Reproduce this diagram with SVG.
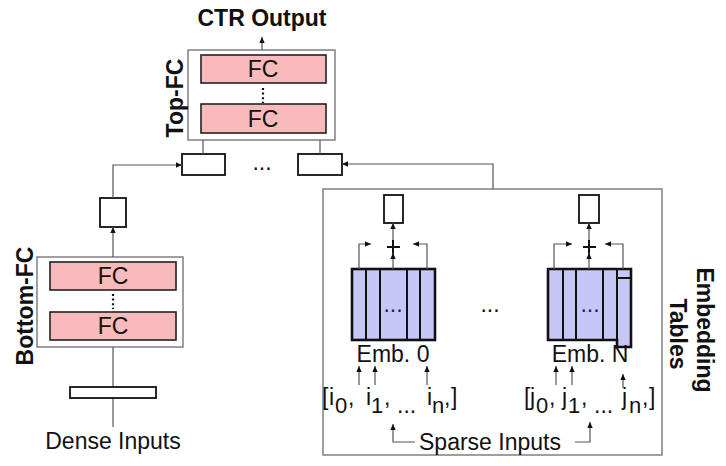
<svg xmlns="http://www.w3.org/2000/svg" width="726" height="466" viewBox="0 0 726 466">
<defs>
<marker id="ah" viewBox="0 0 10 10" refX="10" refY="5" markerWidth="7" markerHeight="6" markerUnits="userSpaceOnUse" orient="auto"><path d="M0,0.5 L10,5 L0,9.5 z" fill="#111"/></marker>
<style>
.t{font-family:"Liberation Sans",Arial,Helvetica,sans-serif;font-size:23px;fill:#111}
.b{font-family:"Liberation Sans",Arial,Helvetica,sans-serif;font-size:23px;font-weight:bold;fill:#111}
.s{font-size:22px}
.grp{fill:#fff;stroke:#777;stroke-width:1.4}
.fc{fill:#f8baba;stroke:#222;stroke-width:1.6}
.box{fill:#fff;stroke:#111;stroke-width:1.8}
.tab{fill:#c6c6f7;stroke:#111;stroke-width:2.6}
.col{stroke:#111;stroke-width:2;fill:none}
.c{fill:none;stroke:#555;stroke-width:1.2}
.a{fill:none;stroke:#555;stroke-width:1.2;marker-end:url(#ah)}
.dots{stroke:#111;stroke-width:2.2;stroke-dasharray:2 2.6;fill:none}
.plus{stroke:#111;stroke-width:2;fill:none}
</style>
</defs>
<rect width="726" height="466" fill="#fff"/>

<g id="top-fc">
<rect class="grp" x="188" y="50" width="147" height="90"/>
<rect class="fc" x="201" y="55" width="125" height="28"/>
<text class="t" x="263" y="77" text-anchor="middle">FC</text>
<line class="dots" x1="263" y1="88" x2="263" y2="103"/>
<rect class="fc" x="201" y="104" width="125" height="29"/>
<text class="t" x="263" y="127" text-anchor="middle">FC</text>
<text class="b" transform="translate(183,98) rotate(-90)" text-anchor="middle">Top-FC</text>
</g>
<text id="ctr-output" class="b" x="262" y="26" text-anchor="middle">CTR Output</text>

<g id="concat-boxes">
<rect class="box" x="182" y="154" width="43" height="21"/>
<text class="t" x="262" y="170" text-anchor="middle">...</text>
<rect class="box" x="298" y="154" width="44" height="21"/>
</g>

<g id="bottom-fc">
<rect class="grp" x="37" y="257" width="146" height="90"/>
<rect class="fc" x="50" y="262" width="126" height="28"/>
<text class="t" x="113" y="284" text-anchor="middle">FC</text>
<line class="dots" x1="113" y1="294" x2="113" y2="309"/>
<rect class="fc" x="50" y="312" width="126" height="28"/>
<text class="t" x="113" y="334" text-anchor="middle">FC</text>
<text class="b" transform="translate(33,306) rotate(-90)" text-anchor="middle">Bottom-FC</text>
</g>

<g id="dense-out">
<rect class="box" x="100" y="198" width="26" height="29"/>
</g>

<g id="dense-input">
<line class="c" x1="113" y1="347" x2="113" y2="427"/>
<rect class="box" x="70" y="387" width="86" height="11"/>
<text class="t" x="113" y="449" text-anchor="middle">Dense Inputs</text>
</g>

<g id="embedding-tables">
<rect class="grp" x="323" y="189" width="339" height="266"/>
<text class="b" transform="translate(697,330) rotate(90)" text-anchor="middle">Embedding</text>
<text class="b" transform="translate(670,334) rotate(90)" text-anchor="middle">Tables</text>
<text class="t" x="490" y="312" text-anchor="middle">...</text>
</g>

<g id="emb-0">
<rect class="box" x="384" y="195" width="19" height="28"/>
<line class="plus" x1="387" y1="247" x2="400" y2="247"/>
<line class="plus" x1="393" y1="240" x2="393" y2="255"/>
<rect class="tab" x="352" y="269" width="83" height="71"/>
<path class="col" d="M366,269V340M380,269V340M407,269V340M420,269V340"/>
<text class="t" x="393" y="312" text-anchor="middle" fill="#1a1f6e" style="fill:#1a1f6e">...</text>
<text class="t" x="393" y="362" text-anchor="middle">Emb. 0</text>
<text class="t"><tspan x="322" y="405">[</tspan><tspan x="329" y="405">i</tspan><tspan class="s" x="335" y="413">0</tspan><tspan x="348" y="405">,</tspan><tspan x="366" y="405">i</tspan><tspan class="s" x="371" y="413">1</tspan><tspan x="384" y="405">,</tspan><tspan x="397" y="413">...</tspan><tspan x="427" y="405">i</tspan><tspan class="s" x="432" y="413">n</tspan><tspan x="444" y="405">,</tspan><tspan x="451" y="405">]</tspan></text>
</g>

<g id="emb-n">
<rect class="box" x="579" y="195" width="20" height="28"/>
<line class="plus" x1="583" y1="247" x2="596" y2="247"/>
<line class="plus" x1="589" y1="240" x2="589" y2="255"/>
<path class="tab" d="M548,269H631V347H617V340H548Z"/>
<path class="col" d="M563,269V340M576,269V340M603,269V340M617,269V340M617,278H631"/>
<text class="t" x="590" y="312" text-anchor="middle" style="fill:#1a1f6e">...</text>
<text class="t" x="590" y="362" text-anchor="middle">Emb. N</text>
<text class="t"><tspan x="524" y="405">[</tspan><tspan x="530" y="405">j</tspan><tspan class="s" x="536" y="413">0</tspan><tspan x="549" y="405">,</tspan><tspan x="562" y="405">j</tspan><tspan class="s" x="568" y="413">1</tspan><tspan x="581" y="405">,</tspan><tspan x="594" y="413">...</tspan><tspan x="622" y="405">j</tspan><tspan class="s" x="629" y="413">n</tspan><tspan x="642" y="405">,</tspan><tspan x="649" y="405">]</tspan></text>
</g>

<text id="sparse-inputs" class="t" x="419" y="450">Sparse Inputs</text>

<g id="connectors">
<polyline class="a" points="262,50 262,37"/>
<line class="c" x1="203" y1="140" x2="203" y2="154"/>
<line class="c" x1="320" y1="140" x2="320" y2="154"/>
<polyline class="a" points="113,198 113,165 182,165"/>
<polyline class="a" points="113,257 113,227"/>
<polyline class="a" points="493,189 493,164 342,164"/>
<!-- emb 0 -->
<polyline class="a" points="359,269 359,244 371,244"/>
<polyline class="a" points="427,269 427,244 413,244"/>
<polyline class="a" points="393,269 393,253"/>
<polyline class="a" points="393,240 393,223"/>
<polyline class="a" points="359,385 359,366"/>
<polyline class="a" points="375,385 375,366"/>
<polyline class="a" points="427,385 427,366"/>
<!-- emb N -->
<polyline class="a" points="554,269 554,244 572,244"/>
<polyline class="a" points="623,269 623,244 605,244"/>
<polyline class="a" points="589,269 589,253"/>
<polyline class="a" points="589,240 589,223"/>
<polyline class="a" points="556,385 556,366"/>
<polyline class="a" points="572,385 572,366"/>
<polyline class="a" points="623,388 623,374"/>
<!-- sparse -->
<polyline class="a" points="415,442 393,442 393,424"/>
<polyline class="a" points="575,442 590,442 590,422"/>
</g>
</svg>
